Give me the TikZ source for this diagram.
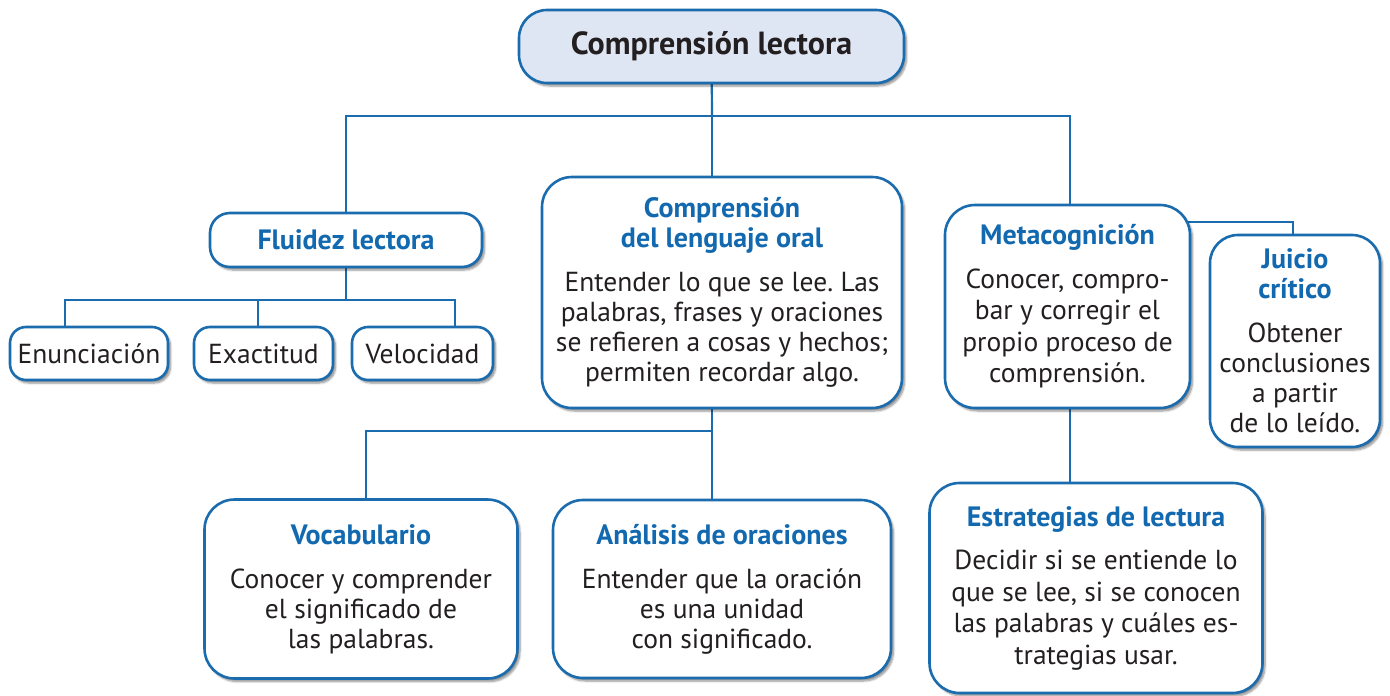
\documentclass[tikz,border=0pt]{standalone}
\usepackage{fontspec}
\setmainfont{PT Sans}
\frenchspacing
\usetikzlibrary{shadows.blur,backgrounds}
\definecolor{bblue}{HTML}{1A6CAE}
\definecolor{tblue}{HTML}{1269AF}
\definecolor{tdark}{HTML}{231F20}
\definecolor{topfill}{HTML}{DFE6F3}
\newcommand\ttlf{\fontsize{28}{30}\selectfont\bfseries\color{tblue}}
\newcommand\bdyf{\fontsize{27.5}{30}\selectfont\color{tdark}}
\newcommand\bdyg{\fontsize{27.5}{31.5}\selectfont\color{tdark}}
\tikzset{
  box/.style={draw=bblue, line width=2.6pt, fill=white, rounded corners=#1,
    align=center, inner sep=0pt, text=tdark,
    font=\fontsize{27.5}{30}\selectfont,
    blur shadow={shadow xshift=2.5pt, shadow yshift=-3pt, shadow blur steps=6, shadow opacity=45}},
  box/.default=30pt,
  conn/.style={draw=bblue, line width=2.2pt},
}
\begin{document}
\begin{tikzpicture}[x=1pt,y=-1pt]
\useasboundingbox (0,0) rectangle (1390,696);
% top
\node[box=28pt, fill=topfill, minimum width=385pt, minimum height=73pt,
  font=\fontsize{32}{34}\selectfont\bfseries] (top) at (711.5,46.5) {Comprensión lectora};
% fluidez
\node[box=20pt, minimum width=272pt, minimum height=54pt] (flu) at (346,240) {\ttlf Fluidez lectora};
\node[box=16pt, minimum width=158pt, minimum height=53pt] (enu) at (89,353.5) {\bdyf Enunciación};
\node[box=16pt, minimum width=139pt, minimum height=53pt] (exa) at (263.5,353.5) {\bdyf Exactitud};
\node[box=16pt, minimum width=141pt, minimum height=53pt] (vel) at (422.5,353.5) {\bdyf Velocidad};
% comprension lenguaje oral
\node[box, minimum width=360pt, minimum height=231pt] (clo) at (722,292.5)
  {\ttlf Comprensión\\\ttlf del lenguaje oral\\[14pt]
   \bdyf Entender lo que se lee. Las\\\bdyf palabras, frases y oraciones\\
   \bdyf se refieren a cosas y hechos;\\\bdyf permiten recordar algo.};
% metacognicion
\node[box, minimum width=245pt, minimum height=203pt, font=\fontsize{27.5}{31.5}\selectfont] (met) at (1067.5,306.5)
  {\ttlf Metacognición\\[12pt]
   \bdyg Conocer, compro-\\\bdyg bar y corregir el\\\bdyg propio proceso de\\\bdyg comprensión.};
% juicio
\node[box=28pt, minimum width=170pt, minimum height=212pt] (jui) at (1295,341)
  {\ttlf Juicio\\\ttlf crítico\\[14pt]
   \bdyf Obtener\\\bdyf conclusiones\\\bdyf a partir\\\bdyf de lo leído.};
% vocabulario
\node[box, minimum width=313pt, minimum height=179pt] (voc) at (361,589)
  {\ttlf Vocabulario\\[14pt]
   \bdyf Conocer y comprender\\\bdyf el significado de\\\bdyf las palabras.};
% analisis
\node[box, minimum width=338pt, minimum height=178pt] (ana) at (722,589)
  {\ttlf Análisis de oraciones\\[14pt]
   \bdyf Entender que la oración\\\bdyf es una unidad\\\bdyf con significado.};
% estrategias
\node[box, minimum width=333pt, minimum height=210pt, font=\fontsize{27.5}{31.5}\selectfont] (est) at (1096,588)
  {\ttlf Estrategias de lectura\\[12pt]
   \bdyg Decidir si se entiende lo\\\bdyg que se lee, si se conocen\\
   \bdyg las palabras y cuáles es-\\\bdyg trategias usar.};
% connectors
\coordinate (b1m) at (712,116);
\coordinate (b1r) at (1070,116);
\coordinate (b2a) at (65,300);
\coordinate (b2b) at (258,300);
\coordinate (b2c) at (455,300);
\coordinate (b3m) at (712,431);
\coordinate (b3l) at (366,431);
\coordinate (mj) at (1293,222);
\begin{scope}[on background layer]
\draw[conn] (top.center) -- (b1m);
\draw[conn] (flu.center) |- (b1r) -- (b1r |- met.center);
\draw[conn] (b1m) -- (b1m |- clo.center);
\draw[conn] (flu.center) -- (flu.center |- b2a);
\draw[conn] (b2a |- enu.center) -- (b2a) -- (b2c) -- (b2c |- vel.center);
\draw[conn] (b2b) -- (b2b |- exa.center);
\draw[conn] (b3m |- clo.center) -- (b3m |- ana.center);
\draw[conn] (b3m) -- (b3l) -- (b3l |- voc.center);
\draw[conn] (b1r |- met.center) -- (b1r |- est.center);
\draw[conn] (met.center |- mj) -- (mj) -- (mj |- jui.center);
\end{scope}
\end{tikzpicture}
\end{document}
